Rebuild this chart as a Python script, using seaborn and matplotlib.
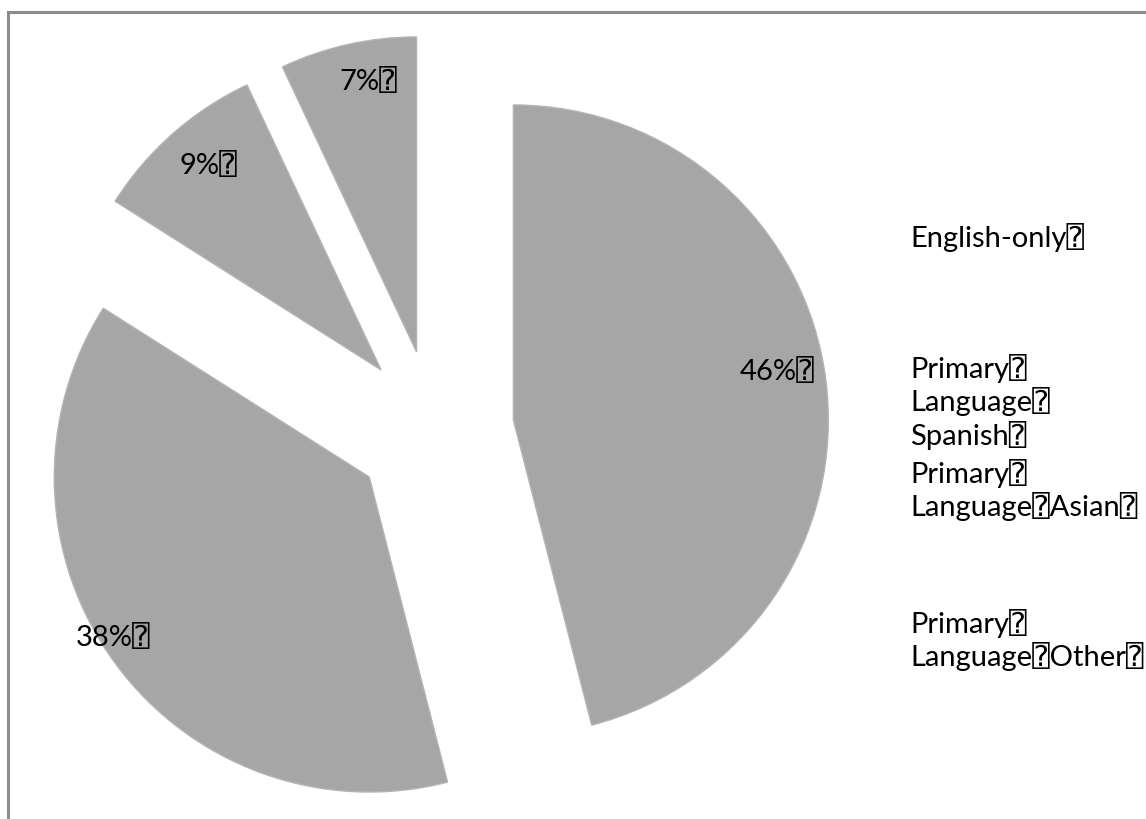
import numpy as np
import matplotlib
matplotlib.use("Agg")
import matplotlib.pyplot as plt
import seaborn as sns
from matplotlib.patches import Rectangle

sns.set_theme(style="white")
plt.rcParams["font.family"] = ["Lato", "DejaVu Sans", "DejaVu Sans Mono"]

# Share of students by home language
categories = ["English-only", "Primary Language Spanish",
              "Primary Language Asian", "Primary Language Other"]
shares = [46, 38, 9, 7]
legend_labels = ["English-only\u2370",
                 "Primary\u2370\nLanguage\u2370\nSpanish\u2370",
                 "Primary\u2370\nLanguage\u2370Asian\u2370",
                 "Primary\u2370\nLanguage\u2370Other\u2370"]

W, H, DPI = 1146, 819, 100
fig = plt.figure(figsize=(W / DPI, H / DPI), dpi=DPI)
ax = fig.add_axes([0, 0, 1, 1])

# pie geometry in pixels
cx, cy, R = 434, 430, 315
FS = 21

wedge_color = "#a6a6a6"
explode = [80 / R] * len(shares)
wedges, texts, autotexts = ax.pie(
    shares, explode=explode, colors=[wedge_color] * len(shares),
    startangle=90, counterclock=False, radius=1.0,
    autopct=lambda p: f"{p:.0f}%\u2370", pctdistance=0.85,
    wedgeprops=dict(linewidth=1.0, edgecolor="#b4b4b4"), frame=False,
    textprops=dict(fontsize=FS, color="black"))

ax.set_xlim(-cx / R, (W - cx) / R)
ax.set_ylim(-(H - cy) / R, cy / R)
ax.axis("off")

# place the percentage labels near each wedge's bisector
label_dist = [0.852, 0.96, 0.852, 0.873]
label_turn = [3.3, -4.0, -1.2, -2.4]
for w, t, d, turn in zip(wedges, autotexts, label_dist, label_turn):
    half = np.deg2rad((w.theta1 + w.theta2) / 2)
    mid = half + np.deg2rad(turn)
    ox, oy = explode[0] * np.cos(half), explode[0] * np.sin(half)
    t.set_position((ox + d * np.cos(mid), oy + d * np.sin(mid)))
    t.set_ha("center")
    t.set_va("center")

# legend entries (text only)
legend_y = [237, 402, 490, 640]
for lab, y in zip(legend_labels, legend_y):
    fig.text(910 / W, 1 - y / H, lab, fontsize=FS, color="black",
             ha="left", va="center", linespacing=1.2)

# chart area border
fig.patches.append(Rectangle((8 / W, -0.1), 2, 1.1 - 12 / H,
                             transform=fig.transFigure, fill=False,
                             edgecolor="#8c8c8c", linewidth=2.2))

fig.savefig("out.png", dpi=DPI, facecolor="white")
